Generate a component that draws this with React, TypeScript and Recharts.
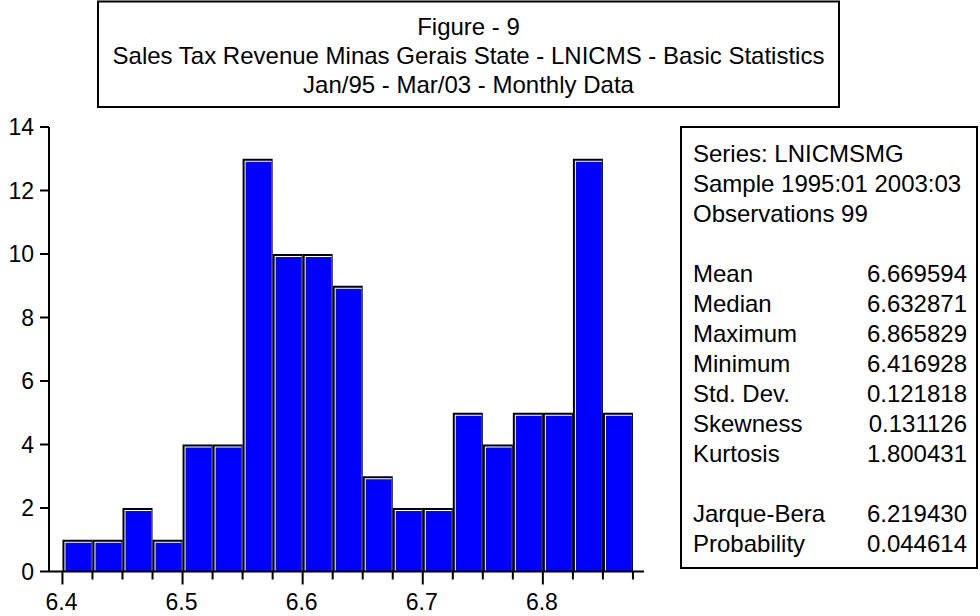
import React from "react";
import { ComposedChart, Bar, XAxis, YAxis } from "recharts";

const binMid = [6.4125, 6.4375, 6.4625, 6.4875, 6.5125, 6.5375, 6.5625, 6.5875, 6.6125, 6.6375, 6.6625, 6.6875, 6.7125, 6.7375, 6.7625, 6.7875, 6.8125, 6.8375, 6.8625];
const counts = [1, 1, 2, 1, 4, 4, 13, 10, 10, 9, 3, 2, 2, 5, 4, 5, 5, 13, 5];
const xTickEdges = [6.4, 6.425, 6.45, 6.475, 6.5, 6.525, 6.55, 6.575, 6.6, 6.625, 6.65, 6.675, 6.7, 6.725, 6.75, 6.775, 6.8, 6.825, 6.85, 6.875];
const xMajorTicks = [6.4, 6.5, 6.6, 6.7, 6.8];
const xMajorLabels = ["6.4", "6.5", "6.6", "6.7", "6.8"];
const yTicks = [0, 2, 4, 6, 8, 10, 12, 14];
const xDomain = [6.3888, 6.8842];

const titleLines = [
  "Figure - 9",
  "Sales Tax Revenue Minas Gerais State - LNICMS - Basic Statistics",
  "Jan/95 - Mar/03 - Monthly Data",
];
const infoLines = ["Series: LNICMSMG", "Sample 1995:01 2003:03", "Observations 99"];
const statNames = ["Mean", "Median", "Maximum", "Minimum", "Std. Dev.", "Skewness", "Kurtosis"];
const statValues = ["6.669594", "6.632871", "6.865829", "6.416928", "0.121818", "0.131126", "1.800431"];
const testNames = ["Jarque-Bera", "Probability"];
const testValues = ["6.219430", "0.044614"];

const FONT = "'Liberation Sans', Arial, sans-serif";

const data = binMid.map((m, i) => ({ mid: m, count: counts[i] }));

const HistBar = (props: any) => {
  const { x, y, width, height } = props;
  if (!height || height <= 0) return null;
  return (
    <g>
      <rect x={x} y={y} width={width} height={height} fill="#000" />
      <rect x={x + 2} y={y + 2} width={width - 3} height={height - 2} fill="#fff" />
      <rect x={x + 3} y={y + 3} width={width - 4} height={height - 3} fill="#0000ff" />
    </g>
  );
};

const XTick = (props: any) => {
  const { x, y, payload } = props;
  const idx = xMajorTicks.indexOf(payload.value);
  const major = idx >= 0;
  return (
    <g>
      <line x1={x} x2={x} y1={y} y2={y + (major ? 13 : 8)} stroke="#000" strokeWidth={2} />
      {major && (
        <text x={x - 1} y={y + 38.5} textAnchor="middle" fontSize={23} fontFamily={FONT} fill="#000">
          {xMajorLabels[idx]}
        </text>
      )}
    </g>
  );
};

const YTick = (props: any) => {
  const { x, y, payload } = props;
  return (
    <g>
      <line x1={x - 9} x2={x} y1={y} y2={y} stroke="#000" strokeWidth={2} />
      <text x={x - 15} y={y + 8} textAnchor="end" fontSize={23} fontFamily={FONT} fill="#000">
        {payload.value}
      </text>
    </g>
  );
};

const axisLineStyle = { stroke: "#000", strokeWidth: 2 };

export default function App() {
  const statBaseline0 = 162;
  const lineGap = 30;
  const fs = 24;
  return (
    <div style={{ position: "absolute", left: 0, top: 0, width: 980, height: 616, background: "#fff", fontFamily: FONT }}>
      <svg width={980} height={616} style={{ position: "absolute", left: 0, top: 0 }}>
        <rect x={98} y={1.5} width={741} height={105.5} fill="none" stroke="#000" strokeWidth={2} />
        {titleLines.map((t, i) => (
          <text key={i} x={468.5} y={35 + i * 29} textAnchor="middle" fontSize={24} fontFamily={FONT} fill="#000">
            {t}
          </text>
        ))}
        <rect x={681} y={127} width={296} height={441} fill="none" stroke="#000" strokeWidth={2} />
        {infoLines.map((t, i) => (
          <text key={"i" + i} x={693} y={statBaseline0 + i * lineGap} fontSize={fs} fontFamily={FONT} fill="#000">
            {t}
          </text>
        ))}
        {statNames.map((t, i) => (
          <g key={"s" + i}>
            <text x={693} y={statBaseline0 + (4 + i) * lineGap} fontSize={fs} fontFamily={FONT} fill="#000">{t}</text>
            <text x={967} y={statBaseline0 + (4 + i) * lineGap} textAnchor="end" fontSize={fs} fontFamily={FONT} fill="#000">{statValues[i]}</text>
          </g>
        ))}
        {testNames.map((t, i) => (
          <g key={"t" + i}>
            <text x={693} y={statBaseline0 + (12 + i) * lineGap} fontSize={fs} fontFamily={FONT} fill="#000">{t}</text>
            <text x={967} y={statBaseline0 + (12 + i) * lineGap} textAnchor="end" fontSize={fs} fontFamily={FONT} fill="#000">{testValues[i]}</text>
          </g>
        ))}
      </svg>
      <div style={{ position: "absolute", left: 0, top: 0 }}>
        <ComposedChart width={980} height={616} data={data} margin={{ top: 127, right: 336, bottom: 0, left: 0 }}>
          <XAxis
            dataKey="mid"
            type="number"
            domain={xDomain}
            allowDataOverflow
            ticks={xTickEdges}
            interval={0}
            height={44.5}
            tickSize={0}
            tickMargin={0}
            tick={<XTick />}
            tickLine={false}
            axisLine={axisLineStyle}
          />
          <XAxis
            xAxisId="top"
            orientation="top"
            type="number"
            domain={xDomain}
            allowDataOverflow
            height={0}
            tick={false}
            tickLine={false}
            axisLine={axisLineStyle}
          />
          <YAxis
            domain={[0, 14]}
            ticks={yTicks}
            interval={0}
            width={49}
            tickSize={0}
            tickMargin={0}
            tick={<YTick />}
            tickLine={false}
            axisLine={axisLineStyle}
          />
          <YAxis
            yAxisId="right"
            orientation="right"
            domain={[0, 14]}
            width={0}
            tick={false}
            tickLine={false}
            axisLine={axisLineStyle}
          />
          <Bar dataKey="count" barSize={30} shape={<HistBar />} isAnimationActive={false} />
        </ComposedChart>
      </div>
    </div>
  );
}
